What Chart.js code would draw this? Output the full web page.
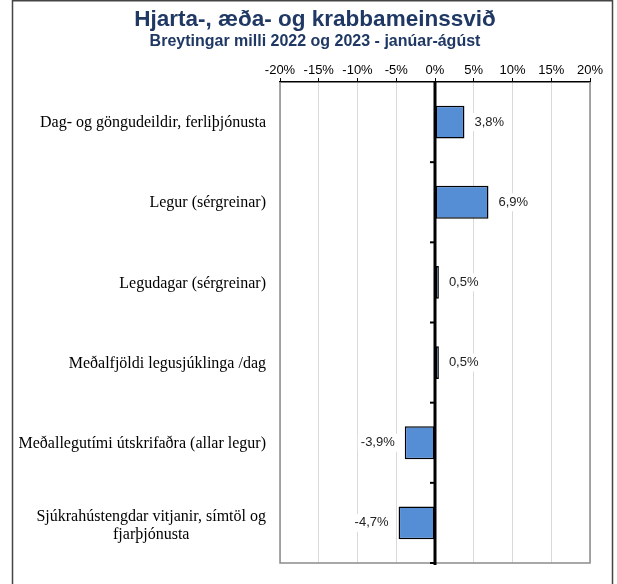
<!DOCTYPE html>
<html>
<head>
<meta charset="utf-8">
<script src="https://cdn.jsdelivr.net/npm/chart.js@4/dist/chart.umd.min.js"></script>
<style>
  html, body { margin: 0; padding: 0; background: #fff; }
</style>
</head>
<body>
<canvas id="chart" width="617" height="584"></canvas>
<script>
const categories = [
    'Dag- og göngudeildir, ferliþjónusta',
    'Legur (sérgreinar)',
    'Legudagar (sérgreinar)',
    'Meðalfjöldi legusjúklinga /dag',
    'Meðallegutími útskrifaðra (allar legur)',
    ['Sjúkrahústengdar vitjanir, símtöl og', 'fjarþjónusta']
]
const changes = [3.8, 6.9, 0.5, 0.5, -3.9, -4.7]
const xMin = -20
const xMax = 20
const xStep = 5

const titleText = 'Hjarta-, æða- og krabbameinssvið'
const subtitleText = 'Breytingar milli 2022 og 2023 - janúar-ágúst'

// frame, titles, plot border, zero line, category ticks and value labels
const extras = {
    id: 'extras',
    beforeDraw(chart) {
        const ctx = chart.ctx
        ctx.save()
        ctx.fillStyle = '#fff'
        ctx.fillRect(0, 0, chart.width, chart.height)
        ctx.strokeStyle = '#444'
        ctx.lineWidth = 1.5
        ctx.strokeRect(12.5, 0.75, 600, 640)

        ctx.fillStyle = '#1f3864'
        ctx.textAlign = 'center'
        ctx.textBaseline = 'middle'
        ctx.font = 'bold 22.5px "Liberation Sans", Arial, sans-serif'
        ctx.fillText(titleText, 315, 20)
        ctx.font = 'bold 16px "Liberation Sans", Arial, sans-serif'
        ctx.fillText(subtitleText, 315, 42)
        ctx.restore()
    },
    afterDatasetsDraw(chart) {
        const ctx = chart.ctx
        const a = chart.chartArea
        const x = chart.scales.x
        const y = chart.scales.y
        ctx.save()

        // gray plot border (left, right, bottom)
        ctx.strokeStyle = '#8c8c8c'
        ctx.lineWidth = 1.5
        ctx.beginPath()
        ctx.moveTo(a.left, a.top)
        ctx.lineTo(a.left, a.bottom)
        ctx.lineTo(a.right, a.bottom)
        ctx.lineTo(a.right, a.top)
        ctx.stroke()

        // zero line
        const x0 = Math.round(x.getPixelForValue(0))
        ctx.strokeStyle = '#000'
        ctx.lineWidth = 3
        ctx.beginPath()
        ctx.moveTo(x0, a.top)
        ctx.lineTo(x0, a.bottom + 2)
        ctx.stroke()

        // category ticks on zero line
        ctx.lineWidth = 2
        const band = (a.bottom - a.top) / categories.length
        for (let i = 1; i <= categories.length; i++) {
            const yy = a.top + band * i
            ctx.beginPath()
            ctx.moveTo(x0 - 5, yy)
            ctx.lineTo(x0, yy)
            ctx.stroke()
        }

        // value labels
        ctx.font = '13px "Liberation Sans", Arial, sans-serif'
        ctx.textBaseline = 'middle'
        const meta = chart.getDatasetMeta(0)
        meta.data.forEach((bar, i) => {
            const v = changes[i]
            const txt = v.toFixed(1).replace('.', ',') + '%'
            const w = ctx.measureText(txt).width
            let tx
            if (v >= 0) {
                tx = bar.x + 10
            } else {
                tx = bar.x - 10 - w
            }
            ctx.fillStyle = '#fff'
            ctx.fillRect(tx - 3, bar.y - 9, w + 6, 18)
            ctx.fillStyle = '#222'
            ctx.textAlign = 'left'
            ctx.fillText(txt, tx, bar.y)
        })

        // category labels
        ctx.font = '16px "Liberation Serif", "Times New Roman", serif'
        ctx.fillStyle = '#000'
        categories.forEach((lab, i) => {
            const yc = y.getPixelForValue(i)
            if (Array.isArray(lab)) {
                const w0 = ctx.measureText(lab[0]).width
                const cx = a.left - 14 - w0 / 2
                ctx.textAlign = 'center'
                const lh = 18
                lab.forEach((line, j) => {
                    ctx.fillText(line, cx, yc + 3 + (j - (lab.length - 1) / 2) * lh)
                })
            } else {
                ctx.textAlign = 'right'
                ctx.fillText(lab, a.left - 14, yc + 1)
            }
        })
        ctx.restore()
    }
}

const data = {
    labels: categories,
    datasets: [{
        data: changes,
        backgroundColor: '#558ed5',
        borderColor: '#000',
        borderWidth: 1.5,
        borderSkipped: false,
        categoryPercentage: 1,
        barPercentage: 0.41
    }]
}

const config = {
    type: 'bar',
    data: data,
    plugins: [extras],
    options: {
        indexAxis: 'y',
        responsive: false,
        animation: false,
        devicePixelRatio: 1,
        layout: {
            padding: { top: 50, left: 0, right: 27, bottom: 21 }
        },
        plugins: {
            legend: { display: false },
            tooltip: { enabled: false }
        },
        scales: {
            x: {
                position: 'top',
                min: xMin,
                max: xMax,
                ticks: {
                    stepSize: xStep,
                    color: '#000',
                    padding: 0,
                    font: { family: '"Liberation Sans", Arial, sans-serif', size: 13 },
                    callback: (v) => v + '%'
                },
                grid: {
                    color: '#d9d9d9',
                    tickColor: '#000',
                    tickLength: 4,
                    lineWidth: 1
                },
                border: { display: true, color: '#000', width: 1.5 },
                afterFit: (scale) => { scale.height = 32 }
            },
            y: {
                ticks: { display: false },
                grid: { display: false },
                border: { display: false },
                afterFit: (scale) => { scale.width = 280 }
            }
        }
    }
}

let ctx = document.querySelector('#chart').getContext('2d')
const myChart = new Chart(ctx, config)
</script>
</body>
</html>
